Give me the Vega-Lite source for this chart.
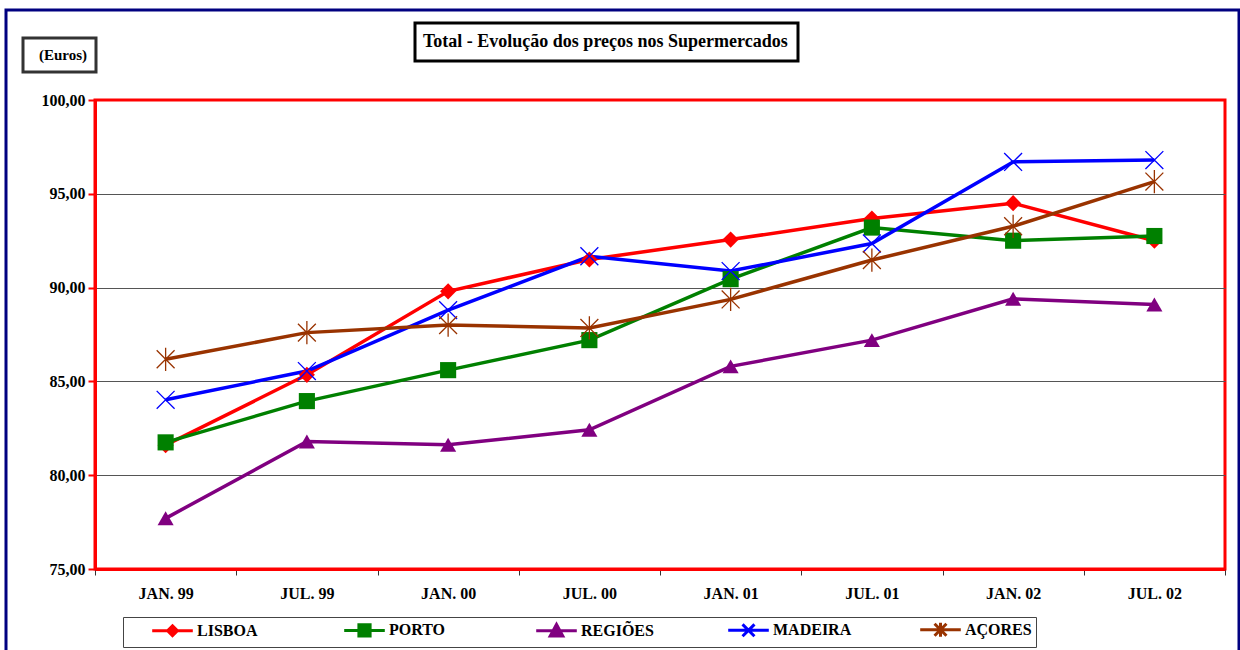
{
  "$schema": "https://vega.github.io/schema/vega-lite/v6.json",
  "width": 1130,
  "height": 469,
  "autosize": {"type": "none"},
  "padding": {"left": 95, "top": 100, "right": 15, "bottom": 81},
  "background": "white",
  "config": {
    "locale": {"number": {"decimal": ",", "thousands": ".", "grouping": [3], "currency": ["", " €"]}},
    "view": {"stroke": "#ff0000", "strokeWidth": 3},
    "legend": {"strokeWidth": 3},
    "font": "Liberation Serif"
  },
  "data": {
    "values": [
      {"d": "JAN. 99", "s": "LISBOA", "v": 81.6},
      {"d": "JUL. 99", "s": "LISBOA", "v": 85.35},
      {"d": "JAN. 00", "s": "LISBOA", "v": 89.8},
      {"d": "JUL. 00", "s": "LISBOA", "v": 91.5},
      {"d": "JAN. 01", "s": "LISBOA", "v": 92.56},
      {"d": "JUL. 01", "s": "LISBOA", "v": 93.68},
      {"d": "JAN. 02", "s": "LISBOA", "v": 94.5},
      {"d": "JUL. 02", "s": "LISBOA", "v": 92.5},
      {"d": "JAN. 99", "s": "PORTO", "v": 81.75},
      {"d": "JUL. 99", "s": "PORTO", "v": 83.95},
      {"d": "JAN. 00", "s": "PORTO", "v": 85.6},
      {"d": "JUL. 00", "s": "PORTO", "v": 87.2},
      {"d": "JAN. 01", "s": "PORTO", "v": 90.45},
      {"d": "JUL. 01", "s": "PORTO", "v": 93.2},
      {"d": "JAN. 02", "s": "PORTO", "v": 92.5},
      {"d": "JUL. 02", "s": "PORTO", "v": 92.75},
      {"d": "JAN. 99", "s": "REGIÕES", "v": 77.7},
      {"d": "JUL. 99", "s": "REGIÕES", "v": 81.8},
      {"d": "JAN. 00", "s": "REGIÕES", "v": 81.62},
      {"d": "JUL. 00", "s": "REGIÕES", "v": 82.42},
      {"d": "JAN. 01", "s": "REGIÕES", "v": 85.8},
      {"d": "JUL. 01", "s": "REGIÕES", "v": 87.2},
      {"d": "JAN. 02", "s": "REGIÕES", "v": 89.4},
      {"d": "JUL. 02", "s": "REGIÕES", "v": 89.1},
      {"d": "JAN. 99", "s": "MADEIRA", "v": 84.02},
      {"d": "JUL. 99", "s": "MADEIRA", "v": 85.55},
      {"d": "JAN. 00", "s": "MADEIRA", "v": 88.8},
      {"d": "JUL. 00", "s": "MADEIRA", "v": 91.67},
      {"d": "JAN. 01", "s": "MADEIRA", "v": 90.88},
      {"d": "JUL. 01", "s": "MADEIRA", "v": 92.35},
      {"d": "JAN. 02", "s": "MADEIRA", "v": 96.7},
      {"d": "JUL. 02", "s": "MADEIRA", "v": 96.8},
      {"d": "JAN. 99", "s": "AÇORES", "v": 86.18},
      {"d": "JUL. 99", "s": "AÇORES", "v": 87.6},
      {"d": "JAN. 00", "s": "AÇORES", "v": 88.0},
      {"d": "JUL. 00", "s": "AÇORES", "v": 87.85},
      {"d": "JAN. 01", "s": "AÇORES", "v": 89.37},
      {"d": "JUL. 01", "s": "AÇORES", "v": 91.47},
      {"d": "JAN. 02", "s": "AÇORES", "v": 93.27},
      {"d": "JUL. 02", "s": "AÇORES", "v": 95.65}
    ]
  },
  "encoding": {
    "x": {
      "field": "d",
      "type": "ordinal",
      "sort": null,
      "scale": {"type": "band", "paddingInner": 0, "paddingOuter": 0},
      "axis": {
        "title": null,
        "labelAngle": 0,
        "labelFont": "Liberation Serif",
        "labelFontSize": 16,
        "labelFontWeight": "bold",
        "labelColor": "black",
        "labelPadding": 10,
        "tickBand": "extent",
        "tickSize": 6,
        "tickColor": "#333",
        "domainColor": "#ff0000",
        "domainWidth": 3
      }
    },
    "y": {
      "field": "v",
      "type": "quantitative",
      "scale": {"domain": [75, 100], "nice": false, "zero": false},
      "axis": {
        "title": null,
        "values": [75, 80, 85, 90, 95, 100],
        "format": ".2f",
        "labelFont": "Liberation Serif",
        "labelFontSize": 16,
        "labelFontWeight": "bold",
        "labelColor": "black",
        "labelPadding": 3,
        "tickSize": 7,
        "tickColor": "#ff0000",
        "tickWidth": 2,
        "domainColor": "#ff0000",
        "domainWidth": 3,
        "grid": true,
        "gridColor": {"condition": {"test": "datum.value === 75 || datum.value === 100", "value": "transparent"}, "value": "#555555"},
        "gridWidth": 1
      }
    }
  },
  "layer": [
    {
      "mark": {"type": "line", "strokeWidth": 3.5},
      "encoding": {
        "color": {
          "field": "s",
          "type": "nominal",
          "scale": {
            "domain": ["LISBOA", "PORTO", "REGIÕES", "MADEIRA", "AÇORES"],
            "range": ["#ff0000", "#008000", "#800080", "#0000ff", "#993300"]
          },
          "legend": {
            "title": null,
            "orient": "none",
            "legendX": 28,
            "legendY": 517,
            "direction": "horizontal",
            "columns": 5,
            "gridAlign": "all",
            "columnPadding": 43,
            "padding": 4,
            "strokeColor": "#444444",
            "fillColor": "white",
            "symbolSize": 196,
            "symbolOffset": 37,
            "labelOffset": 16,
            "labelFont": "Liberation Serif",
            "labelFontSize": 16,
            "labelFontWeight": "bold",
            "labelColor": "black",
            "encode": {
              "legend": {"update": {"strokeWidth": {"value": 1}}},
              "symbols": {
                "update": {
                  "shape": {"signal": "datum.value === 'LISBOA' ? 'M-2.9,0L2.9,0M0,-0.7L0.7,0L0,0.7L-0.7,0Z' : datum.value === 'PORTO' ? 'M-2.9,0L2.9,0M-0.8,-0.8L0.8,-0.8L0.8,0.8L-0.8,0.8Z' : datum.value === 'REGIÕES' ? 'M-2.9,0L2.9,0M-0.9,0.75L0.9,0.75L0,-0.9Z' : datum.value === 'MADEIRA' ? 'M-2.9,0L2.9,0M-0.85,-0.85L0.85,0.85M-0.85,0.85L0.85,-0.85' : 'M-2.9,0L2.9,0M-0.85,-0.85L0.85,0.85M-0.85,0.85L0.85,-0.85M0,-1L0,1'"},
                  "fill": {"signal": "scale('color', datum.value)"},
                  "stroke": {"signal": "scale('color', datum.value)"},
                  "strokeWidth": {"value": 3},
                  "opacity": {"value": 1}
                }
              }
            }
          }
        }
      }
    },
    {
      "transform": [{"filter": "datum.s === 'LISBOA' || datum.s === 'PORTO' || datum.s === 'REGIÕES'"}],
      "mark": {"type": "point", "filled": true, "opacity": 1, "size": 260},
      "encoding": {
        "color": {"field": "s", "type": "nominal", "legend": null},
        "shape": {
          "field": "s",
          "type": "nominal",
          "legend": null,
          "scale": {"domain": ["LISBOA", "PORTO", "REGIÕES"], "range": ["diamond", "square", "triangle-up"]}
        },
        "strokeDash": {
          "datum": "Total - Evolução dos preços nos Supermercados",
          "type": "nominal",
          "legend": {
            "title": null,
            "orient": "none",
            "legendX": 320,
            "legendY": -77,
            "padding": 10,
            "strokeColor": "black",
            "fillColor": "white",
            "symbolSize": 0,
            "symbolOpacity": 0,
            "symbolStrokeWidth": 0,
            "labelOffset": -20,
            "labelLimit": 600,
            "labelFont": "Liberation Serif",
            "labelFontSize": 18,
            "labelFontWeight": "bold",
            "labelColor": "black"
          }
        },
        "strokeWidth": {
          "datum": "frame",
          "type": "ordinal",
          "scale": {"range": [1, 1]},
          "legend": {
            "title": null,
            "orient": "none",
            "legendX": -89,
            "legendY": -90,
            "padding": 325,
            "strokeColor": "#000080",
            "fillColor": "transparent",
            "symbolSize": 1,
            "symbolOpacity": 0,
            "symbolStrokeWidth": 0,
            "labelOffset": 581,
            "labelFontSize": 1,
            "labelExpr": "''"
          }
        }
      }
    },
    {
      "transform": [{"filter": "datum.s === 'MADEIRA' || datum.s === 'AÇORES'"}],
      "mark": {"type": "point", "filled": false, "opacity": 1, "strokeWidth": 1.3},
      "encoding": {
        "color": {"field": "s", "type": "nominal", "legend": null},
        "shape": {
          "field": "s",
          "type": "nominal",
          "legend": null,
          "scale": {"domain": ["MADEIRA", "AÇORES"], "range": ["M-1,-1L1,1M-1,1L1,-1", "M-1,-1L1,1M-1,1L1,-1M0,-1.3L0,1.3"]}
        },
        "size": {
          "datum": "(Euros)",
          "type": "ordinal",
          "scale": {"range": [320, 320]},
          "legend": {
            "title": null,
            "orient": "none",
            "legendX": -72,
            "legendY": -62,
            "padding": 8,
            "strokeColor": "#333333",
            "fillColor": "white",
            "symbolOpacity": 0,
            "symbolStrokeWidth": 0,
            "labelOffset": -10,
            "labelFont": "Liberation Serif",
            "labelFontSize": 15,
            "labelFontWeight": "bold",
            "labelColor": "black",
            "encode": {"legend": {"update": {"strokeWidth": {"value": 1}}}}
          }
        }
      }
    }
  ],
  "resolve": {"scale": {"shape": "independent"}}
}
